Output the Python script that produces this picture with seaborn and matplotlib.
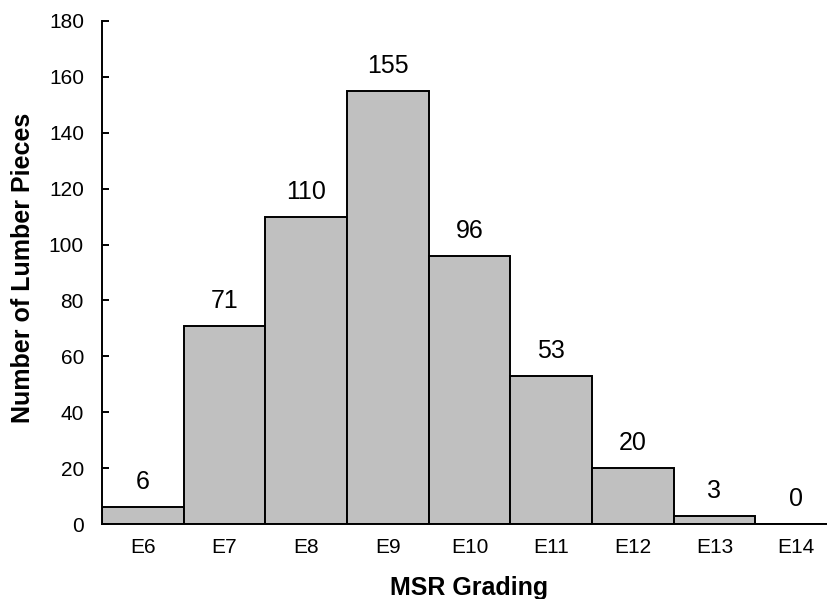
import matplotlib
matplotlib.use("Agg")
import matplotlib.pyplot as plt
import seaborn as sns
import pandas as pd

grades = ["E6", "E7", "E8", "E9", "E10", "E11", "E12", "E13", "E14"]
counts = [6, 71, 110, 155, 96, 53, 20, 3, 0]
y_ticks = [0, 20, 40, 60, 80, 100, 120, 140, 160, 180]

sns.set_style("white")
plt.rcParams["font.family"] = ["Liberation Sans", "DejaVu Sans"]
plt.rcParams["text.color"] = "black"
plt.rcParams["axes.labelcolor"] = "black"
plt.rcParams["xtick.color"] = "black"
plt.rcParams["ytick.color"] = "black"

df = pd.DataFrame({"grade": grades, "count": counts})

fig = plt.figure(figsize=(8.27, 5.99), dpi=100)
ax = fig.add_axes([102 / 827, 1 - 524 / 599, 735 / 827, 503 / 599])

sns.barplot(data=df, x="grade", y="count", order=grades, width=1.0,
            color="#C0C0C0", saturation=1, edgecolor="black", linewidth=1.4, ax=ax)

# value labels above each bar
for i, v in enumerate(counts):
    ax.annotate(str(v), xy=(i, v), xytext=(0, 18), textcoords="offset pixels",
                ha="center", va="baseline", fontsize=18, color="black")

ax.set_xlim(-0.5, len(grades) - 0.5)
ax.set_ylim(0, 180)
ax.set_yticks(y_ticks)
ax.tick_params(axis="y", direction="in", length=5, width=1.4, labelsize=15, pad=13, left=True)
ax.tick_params(axis="x", length=0, labelsize=15, pad=10)

for side in ["top", "right"]:
    ax.spines[side].set_visible(False)
for side in ["left", "bottom"]:
    ax.spines[side].set_linewidth(1.4)
    ax.spines[side].set_color("black")

ax.set_xlabel("MSR Grading", fontsize=18, fontweight="bold")
ax.set_ylabel("Number of Lumber Pieces", fontsize=18, fontweight="bold")
ax.xaxis.set_label_coords(0.5, -0.104)
ax.yaxis.set_label_coords(-0.091, 0.509)

fig.savefig("out.png", dpi=100)
